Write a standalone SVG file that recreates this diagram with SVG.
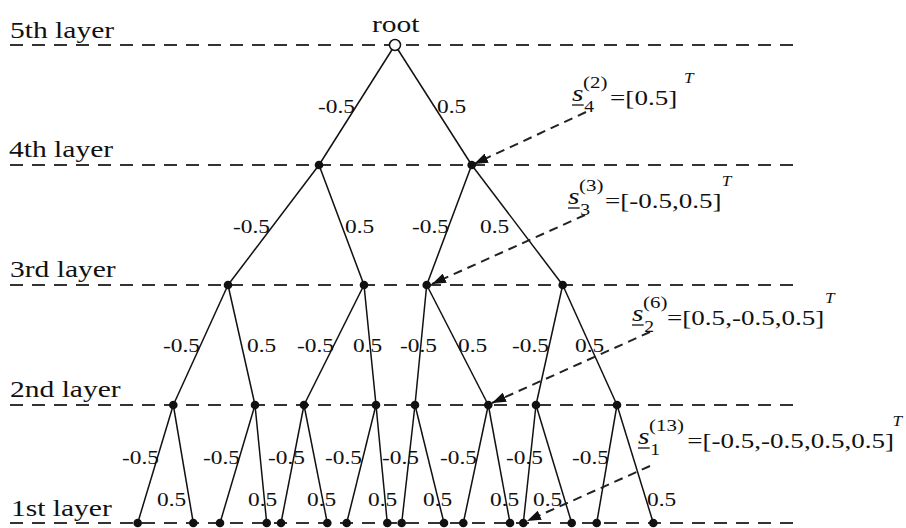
<svg xmlns="http://www.w3.org/2000/svg" width="906" height="528" viewBox="0 0 906 528" font-family="'Liberation Serif', 'Times New Roman', 'DejaVu Serif', serif">
<defs>
<style>
text{font-family:'Liberation Serif','Times New Roman','DejaVu Serif',serif;fill:#111}
.lay{font-size:24px}
.el{font-size:19px}
.m{font-size:22px}
.s{font-size:24px;font-style:italic}
.sp{font-size:17px}
.sb{font-size:16px}
.tt{font-size:14px;font-style:italic}
.ln{stroke:#111;stroke-width:1.5;fill:none}
.dash{stroke:#333;stroke-width:2.2;stroke-dasharray:13 9;fill:none}
.arr{stroke:#222;stroke-width:2;stroke-dasharray:9 6;fill:none}
.dot{fill:#111}
.ul{stroke:#111;stroke-width:1.3}
</style>
<marker id="ah" markerUnits="userSpaceOnUse" markerWidth="14" markerHeight="10" refX="14" refY="5" orient="auto">
<path d="M0,0 L14,5 L0,10 z" fill="#111"/>
</marker>
</defs>
<rect width="906" height="528" fill="#fff"/>

<g id="layers">
<line class="dash" x1="10" y1="45" x2="796" y2="45"/>
<line class="dash" x1="10" y1="165" x2="796" y2="165"/>
<line class="dash" x1="10" y1="285" x2="796" y2="285"/>
<line class="dash" x1="10" y1="405" x2="796" y2="405"/>
<line class="dash" x1="10" y1="523" x2="796" y2="523"/>
<text class="lay" transform="translate(10,38) scale(1.23,1)">5th layer</text>
<text class="lay" transform="translate(9,157) scale(1.23,1)">4th layer</text>
<text class="lay" transform="translate(10,277) scale(1.23,1)">3rd layer</text>
<text class="lay" transform="translate(10,397) scale(1.23,1)">2nd layer</text>
<text class="lay" transform="translate(11,516) scale(1.23,1)">1st layer</text>
</g>

<g id="connectors">
<line class="ln" x1="395" y1="45" x2="319" y2="165"/>
<line class="ln" x1="395" y1="45" x2="471.7" y2="165"/>
<line class="ln" x1="319" y1="165" x2="228" y2="285"/>
<line class="ln" x1="319" y1="165" x2="364" y2="285"/>
<line class="ln" x1="471.7" y1="165" x2="426.7" y2="285"/>
<line class="ln" x1="471.7" y1="165" x2="562.7" y2="285"/>
<line class="ln" x1="228" y1="285" x2="173.3" y2="405"/>
<line class="ln" x1="228" y1="285" x2="255" y2="405"/>
<line class="ln" x1="364" y1="285" x2="304" y2="405"/>
<line class="ln" x1="364" y1="285" x2="376" y2="405"/>
<line class="ln" x1="426.7" y1="285" x2="415" y2="405"/>
<line class="ln" x1="426.7" y1="285" x2="488.3" y2="405"/>
<line class="ln" x1="562.7" y1="285" x2="536" y2="405"/>
<line class="ln" x1="562.7" y1="285" x2="617" y2="405"/>
<line class="ln" x1="173.3" y1="405" x2="137.7" y2="523"/>
<line class="ln" x1="173.3" y1="405" x2="193.3" y2="523"/>
<line class="ln" x1="255" y1="405" x2="220" y2="523"/>
<line class="ln" x1="255" y1="405" x2="266.7" y2="523"/>
<line class="ln" x1="304" y1="405" x2="281" y2="523"/>
<line class="ln" x1="304" y1="405" x2="327.3" y2="523"/>
<line class="ln" x1="376" y1="405" x2="346.7" y2="523"/>
<line class="ln" x1="376" y1="405" x2="387.3" y2="523"/>
<line class="ln" x1="415" y1="405" x2="401.7" y2="523"/>
<line class="ln" x1="415" y1="405" x2="444" y2="523"/>
<line class="ln" x1="488.3" y1="405" x2="463.3" y2="523"/>
<line class="ln" x1="488.3" y1="405" x2="510" y2="523"/>
<line class="ln" x1="536" y1="405" x2="523.3" y2="523"/>
<line class="ln" x1="536" y1="405" x2="571.7" y2="523"/>
<line class="ln" x1="617" y1="405" x2="596.7" y2="523"/>
<line class="ln" x1="617" y1="405" x2="653.3" y2="523"/>
<line class="arr" x1="586" y1="112" x2="474" y2="164" marker-end="url(#ah)"/>
<line class="arr" x1="585" y1="215" x2="432" y2="284" marker-end="url(#ah)"/>
<line class="arr" x1="650" y1="332" x2="492" y2="403" marker-end="url(#ah)"/>
<line class="arr" x1="650" y1="466" x2="527" y2="521" marker-end="url(#ah)"/>
</g>

<g id="edge-labels">
<text class="el" transform="translate(318,113) scale(1.23,1)">-0.5</text>
<text class="el" transform="translate(437,113) scale(1.23,1)">0.5</text>
<text class="el" transform="translate(233,233) scale(1.23,1)">-0.5</text>
<text class="el" transform="translate(345,233) scale(1.23,1)">0.5</text>
<text class="el" transform="translate(412,233) scale(1.23,1)">-0.5</text>
<text class="el" transform="translate(480,233) scale(1.23,1)">0.5</text>
<text class="el" transform="translate(163,352) scale(1.23,1)">-0.5</text>
<text class="el" transform="translate(247,352) scale(1.23,1)">0.5</text>
<text class="el" transform="translate(297,352) scale(1.23,1)">-0.5</text>
<text class="el" transform="translate(353,352) scale(1.23,1)">0.5</text>
<text class="el" transform="translate(400,352) scale(1.23,1)">-0.5</text>
<text class="el" transform="translate(458,352) scale(1.23,1)">0.5</text>
<text class="el" transform="translate(512,352) scale(1.23,1)">-0.5</text>
<text class="el" transform="translate(575,352) scale(1.23,1)">0.5</text>
<text class="el" transform="translate(122,464) scale(1.23,1)">-0.5</text>
<text class="el" transform="translate(203,464) scale(1.23,1)">-0.5</text>
<text class="el" transform="translate(268,464) scale(1.23,1)">-0.5</text>
<text class="el" transform="translate(325,464) scale(1.23,1)">-0.5</text>
<text class="el" transform="translate(382,464) scale(1.23,1)">-0.5</text>
<text class="el" transform="translate(440,464) scale(1.23,1)">-0.5</text>
<text class="el" transform="translate(506,464) scale(1.23,1)">-0.5</text>
<text class="el" transform="translate(572,464) scale(1.23,1)">-0.5</text>
<text class="el" transform="translate(157,506) scale(1.23,1)">0.5</text>
<text class="el" transform="translate(248,506) scale(1.23,1)">0.5</text>
<text class="el" transform="translate(307,506) scale(1.23,1)">0.5</text>
<text class="el" transform="translate(368,506) scale(1.23,1)">0.5</text>
<text class="el" transform="translate(423,506) scale(1.23,1)">0.5</text>
<text class="el" transform="translate(490,506) scale(1.23,1)">0.5</text>
<text class="el" transform="translate(533,506) scale(1.23,1)">0.5</text>
<text class="el" transform="translate(647,506) scale(1.23,1)">0.5</text>
</g>

<g id="root">
<circle cx="395" cy="45" r="5.5" fill="#fff" stroke="#111" stroke-width="1.5"/>
<text class="lay" transform="translate(372,32) scale(1.23,1)">root</text>
</g>
<g id="n4a"><circle class="dot" cx="319" cy="165" r="4.3"/></g>
<g id="n4b"><circle class="dot" cx="471.7" cy="165" r="4.3"/></g>
<g id="n3a"><circle class="dot" cx="228" cy="285" r="4.3"/></g>
<g id="n3b"><circle class="dot" cx="364" cy="285" r="4.3"/></g>
<g id="n3c"><circle class="dot" cx="426.7" cy="285" r="4.3"/></g>
<g id="n3d"><circle class="dot" cx="562.7" cy="285" r="4.3"/></g>
<g id="n2a"><circle class="dot" cx="173.3" cy="405" r="4.3"/></g>
<g id="n2b"><circle class="dot" cx="255" cy="405" r="4.3"/></g>
<g id="n2c"><circle class="dot" cx="304" cy="405" r="4.3"/></g>
<g id="n2d"><circle class="dot" cx="376" cy="405" r="4.3"/></g>
<g id="n2e"><circle class="dot" cx="415" cy="405" r="4.3"/></g>
<g id="n2f"><circle class="dot" cx="488.3" cy="405" r="4.3"/></g>
<g id="n2g"><circle class="dot" cx="536" cy="405" r="4.3"/></g>
<g id="n2h"><circle class="dot" cx="617" cy="405" r="4.3"/></g>
<g id="n1a"><circle class="dot" cx="137.7" cy="523" r="4.3"/></g>
<g id="n1b"><circle class="dot" cx="193.3" cy="523" r="4.3"/></g>
<g id="n1c"><circle class="dot" cx="220" cy="523" r="4.3"/></g>
<g id="n1d"><circle class="dot" cx="266.7" cy="523" r="4.3"/></g>
<g id="n1e"><circle class="dot" cx="281" cy="523" r="4.3"/></g>
<g id="n1f"><circle class="dot" cx="327.3" cy="523" r="4.3"/></g>
<g id="n1g"><circle class="dot" cx="346.7" cy="523" r="4.3"/></g>
<g id="n1h"><circle class="dot" cx="387.3" cy="523" r="4.3"/></g>
<g id="n1i"><circle class="dot" cx="401.7" cy="523" r="4.3"/></g>
<g id="n1j"><circle class="dot" cx="444" cy="523" r="4.3"/></g>
<g id="n1k"><circle class="dot" cx="463.3" cy="523" r="4.3"/></g>
<g id="n1l"><circle class="dot" cx="510" cy="523" r="4.3"/></g>
<g id="n1m"><circle class="dot" cx="523.3" cy="523" r="4.3"/></g>
<g id="n1n"><circle class="dot" cx="571.7" cy="523" r="4.3"/></g>
<g id="n1o"><circle class="dot" cx="596.7" cy="523" r="4.3"/></g>
<g id="n1p"><circle class="dot" cx="653.3" cy="523" r="4.3"/></g>

<g id="ann1" transform="translate(572,105) scale(1.23,1)">
<text class="s" x="0" y="-4">s</text>
<line class="ul" x1="0" y1="0" x2="9.5" y2="0"/>
<text class="sp" x="9" y="-17">(2)</text>
<text class="sb" x="10" y="7">4</text>
<text class="m" x="31" y="0">=[0.5]</text>
<text class="tt" x="91" y="-22">T</text>
</g>
<g id="ann2" transform="translate(568,208) scale(1.23,1)">
<text class="s" x="0" y="-4">s</text>
<line class="ul" x1="0" y1="0" x2="9.5" y2="0"/>
<text class="sp" x="9" y="-17">(3)</text>
<text class="sb" x="10" y="7">3</text>
<text class="m" x="30" y="0">=[-0.5,0.5]</text>
<text class="tt" x="125" y="-22">T</text>
</g>
<g id="ann3" transform="translate(632,325) scale(1.23,1)">
<text class="s" x="0" y="-4">s</text>
<line class="ul" x1="0" y1="0" x2="9.5" y2="0"/>
<text class="sp" x="9" y="-17">(6)</text>
<text class="sb" x="10" y="7">2</text>
<text class="m" x="28.5" y="0">=[0.5,-0.5,0.5]</text>
<text class="tt" x="157" y="-22">T</text>
</g>
<g id="ann4" transform="translate(638,448) scale(1.23,1)">
<text class="s" x="0" y="-4">s</text>
<line class="ul" x1="0" y1="0" x2="9.5" y2="0"/>
<text class="sp" x="9" y="-17">(13)</text>
<text class="sb" x="10" y="7">1</text>
<text class="m" x="40" y="0">=[-0.5,-0.5,0.5,0.5]</text>
<text class="tt" x="207" y="-22">T</text>
</g>
</svg>
